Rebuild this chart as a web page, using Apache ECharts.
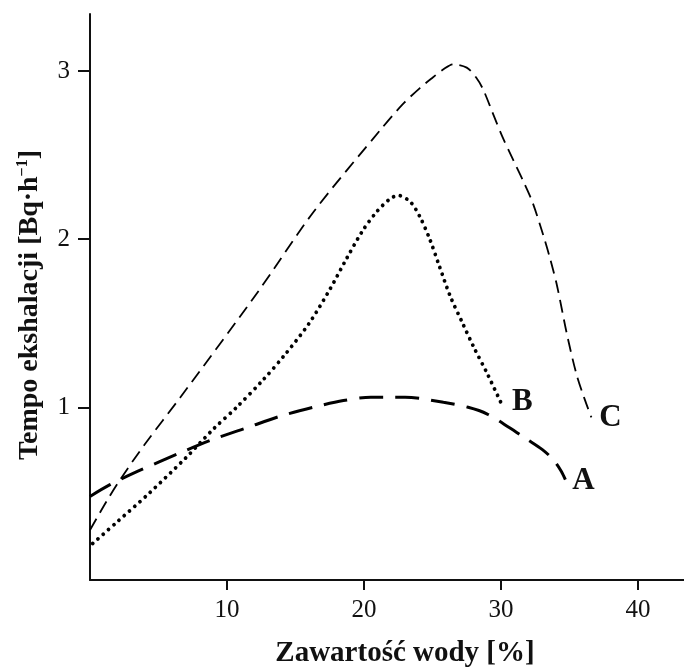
<!DOCTYPE html>
<html>
<head>
<meta charset="utf-8">
<script src="https://cdn.jsdelivr.net/npm/echarts@6/dist/echarts.min.js"></script>
<style>html,body{margin:0;padding:0;background:#fff;}#c{width:684px;height:667px;}</style>
</head>
<body>
<div id="c"></div>
<script>
// Data: [water content %, exhalation rate Bq/h]
const seriesA = [[0,0.47],[1.46,0.54],[3.5,0.62],[6.6,0.73],[9,0.81],[11.5,0.88],[14,0.95],[16.3,1.0],[18.5,1.04],[20.5,1.06],[23.0,1.06],[25.8,1.03],[27.6,1.0],[29.0,0.96],[30.6,0.88],[31.9,0.81],[33.0,0.75],[33.8,0.69],[34.4,0.62],[34.7,0.57]];
const seriesB = [[0.2,0.19],[2,0.32],[4.2,0.48],[7,0.7],[9,0.87],[10.7,1.0],[12.6,1.16],[14.2,1.31],[16.0,1.50],[17.5,1.70],[18.7,1.88],[19.9,2.05],[20.9,2.16],[21.9,2.24],[22.5,2.26],[23.4,2.22],[24.1,2.13],[24.8,2.00],[25.5,1.84],[26.3,1.66],[27.2,1.50],[28.0,1.36],[29.0,1.20],[30.1,1.01]];
const seriesC = [[0,0.27],[1.2,0.44],[2.2,0.57],[4,0.78],[6.6,1.06],[12.2,1.68],[16.3,2.16],[21.2,2.65],[22.8,2.80],[24.1,2.90],[25.0,2.96],[25.8,3.01],[26.5,3.04],[27.5,3.02],[28.2,2.96],[28.7,2.89],[29.4,2.75],[30.1,2.61],[30.9,2.47],[31.6,2.35],[32.3,2.22],[33.1,2.02],[33.6,1.88],[34.1,1.72],[34.8,1.44],[35.5,1.20],[36.1,1.05],[36.6,0.94]];
const seriesNames = ['A','B','C'];
const xTicks = [10,20,30,40];
const yTicks = [1,2,3];
const xTitle = 'Zawartość wody [%]';
const yTitleMain = 'Tempo ekshalacji [Bq·h';
const yTitleSup = '−1';

const chart = echarts.init(document.getElementById('c'));
const serif = '"Liberation Serif","Times New Roman",serif';
const ink = '#111';

function endMark(data, name, off){
  const last = data[data.length-1];
  return {
    symbol:'circle', symbolSize:0, silent:true,
    data:[{coord:last, value:name}],
    label:{show:true, position:'inside', formatter:name, offset:off,
      fontFamily:serif, fontWeight:'bold', fontSize:31, color:ink}
  };
}

chart.setOption({
  animation:false,
  backgroundColor:'#fff',
  grid:{left:90, top:14, right:0, bottom:87, containLabel:false},
  xAxis:{
    type:'value', min:0, max:43.36,
    axisLine:{show:true, onZero:false, lineStyle:{color:ink, width:2}},
    axisTick:{show:true, inside:false, length:10, customValues:xTicks, lineStyle:{color:ink, width:2}},
    axisLabel:{show:true, customValues:xTicks, margin:18, fontFamily:serif, fontSize:25, color:ink},
    splitLine:{show:false}
  },
  yAxis:{
    type:'value', min:-0.027, max:3.339,
    axisLine:{show:true, onZero:false, lineStyle:{color:ink, width:2}},
    axisTick:{show:true, inside:false, length:12, customValues:yTicks, lineStyle:{color:ink, width:2}},
    axisLabel:{show:true, customValues:yTicks, margin:20, fontFamily:serif, fontSize:25, color:ink},
    splitLine:{show:false}
  },
  graphic:[
    {type:'text', x:405, y:654, style:{text:xTitle, font:'bold 29px '+serif, fill:ink, align:'center', verticalAlign:'middle'}},
    {type:'text', x:30, y:305, rotation:Math.PI/2,
      style:{text:'{m|'+yTitleMain+'}{s|'+yTitleSup+'}{m|]}', align:'center', verticalAlign:'middle', fill:ink,
        rich:{m:{font:'bold 28px '+serif, fill:ink}, s:{font:'bold 16px '+serif, fill:ink, padding:[0,0,14,0]}}}}
  ],
  series:[
    {name:seriesNames[0], type:'line', data:seriesA, showSymbol:false, smooth:0.3,
      lineStyle:{color:'#000', width:3, type:[24,12], cap:'butt'}, markPoint:endMark(seriesA,'A',[18,1])},
    {name:seriesNames[1], type:'line', data:seriesB, showSymbol:false, smooth:0.3,
      lineStyle:{color:'#000', width:3.8, type:[0.01,7], cap:'round'}, markPoint:endMark(seriesB,'B',[20,-4])},
    {name:seriesNames[2], type:'line', data:seriesC, showSymbol:false, smooth:0.3,
      lineStyle:{color:'#000', width:1.8, type:[13,7], cap:'butt'}, markPoint:endMark(seriesC,'C',[19,1])}
  ]
});
</script>
</body>
</html>
